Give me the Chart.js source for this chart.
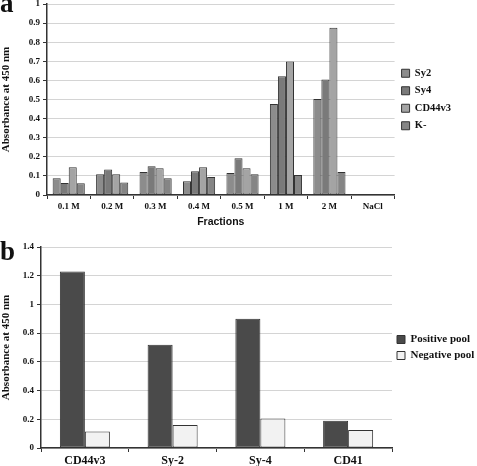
<!DOCTYPE html>
<html>
<head>
<meta charset="utf-8">
<script src="https://cdn.jsdelivr.net/npm/chart.js@4"></script>
<style>
  body { margin: 0; background: #fff; }
  #wrap { position: relative; width: 477px; height: 466px; overflow: hidden; }
  .panel { position: absolute; left: 0; width: 477px; height: 233px; }
  .tag { position: absolute; left: 0; font: bold 27px 'Liberation Serif', serif; color: #111; line-height: 1; }
</style>
</head>
<body>
<div id="wrap">
  <div class="panel" style="top:0"><canvas id="chartA" width="477" height="233"></canvas></div>
  <div class="panel" style="top:233px"><canvas id="chartB" width="477" height="233"></canvas></div>
  <div class="tag" style="top:-10px">a</div>
  <div class="tag" style="top:238px">b</div>
</div>
<script>
// panel a
const fractions = ['0.1 M', '0.2 M', '0.3 M', '0.4 M', '0.5 M', '1 M', '2 M', 'NaCl'];
const sy2 = [0.088, 0.108, 0.121, 0.072, 0.115, 0.476, 0.502, 0];
const sy4 = [0.063, 0.133, 0.150, 0.124, 0.192, 0.622, 0.605, 0];
const cd44v3 = [0.145, 0.108, 0.140, 0.145, 0.140, 0.699, 0.876, 0];
const kNeg = [0.061, 0.066, 0.088, 0.094, 0.108, 0.105, 0.121, 0];

// panel b
const markers = ['CD44v3', 'Sy-2', 'Sy-4', 'CD41'];
const positivePool = [1.23, 0.72, 0.90, 0.19];
const negativePool = [0.115, 0.16, 0.205, 0.125];

const serif = "'Liberation Serif', serif";
const ink = '#333';

function yAxis(max, step, width, fontSize) {
    return {
        min: 0, max: max,
        afterFit: s => { s.width = width; s.paddingTop = 0; },
        ticks: { stepSize: step, color: '#111', padding: 3,
                 callback: v => String(+v.toFixed(1)),
                 font: { family: serif, weight: 'bold', size: fontSize } },
        grid: { color: '#d4d4d4', tickColor: ink, tickLength: 4, lineWidth: 1 },
        border: { display: true, color: ink, width: 1.5 },
        title: { display: true, text: 'Absorbance at 450 nm', color: '#111', padding: { top: 0, bottom: 0 },
                 font: { family: serif, weight: 'bold', size: 11 } }
    };
}

function xAxis(height, fontSize) {
    return {
        afterFit: s => { s.height = height; },
        grid: { offset: true, drawOnChartArea: false, tickColor: ink, tickLength: 4 },
        border: { color: ink, width: 1.5 },
        ticks: { color: '#111', padding: 2, font: { family: serif, weight: 'bold', size: fontSize } }
    };
}

const xA = xAxis(38, 9);
xA.title = { display: true, text: 'Fractions', color: '#111', padding: { top: 5, bottom: 5 },
             font: { family: "'Liberation Sans', sans-serif", weight: 'bold', size: 10.5 } };

new Chart(document.getElementById('chartA'), {
    type: 'bar',
    data: {
        labels: fractions,
        datasets: [
            { label: 'Sy2', data: sy2, backgroundColor: '#8c8c8c' },
            { label: 'Sy4', data: sy4, backgroundColor: '#7a7a7a' },
            { label: 'CD44v3', data: cd44v3, backgroundColor: '#a4a4a4' },
            { label: 'K-', data: kNeg, backgroundColor: '#858585' }
        ].map(d => Object.assign(d, { borderColor: ink, borderWidth: 1, borderSkipped: false,
                                      categoryPercentage: 0.74, barPercentage: 1 }))
    },
    options: {
        responsive: false,
        animation: false,
        layout: { padding: { top: 4, right: 16, bottom: 0, left: 0 } },
        plugins: {
            legend: {
                position: 'right',
                fullSize: false,
                labels: { boxWidth: 8, boxHeight: 8, padding: 7, color: '#111',
                          font: { family: serif, weight: 'bold', size: 10.5 } }
            },
            tooltip: { enabled: false }
        },
        scales: {
            x: xA,
            y: yAxis(1, 0.1, 47, 9)
        }
    }
});

new Chart(document.getElementById('chartB'), {
    type: 'bar',
    data: {
        labels: markers,
        datasets: [
            { label: 'Positive pool', data: positivePool, backgroundColor: '#4a4a4a' },
            { label: 'Negative pool', data: negativePool, backgroundColor: '#f2f2f2' }
        ].map(d => Object.assign(d, { borderColor: ink, borderWidth: 1, borderSkipped: false,
                                      categoryPercentage: 0.57, barPercentage: 1 }))
    },
    options: {
        responsive: false,
        animation: false,
        layout: { padding: { top: 14, right: 0, bottom: 0, left: 0 } },
        plugins: {
            legend: {
                position: 'right',
                fullSize: false,
                maxWidth: 85,
                labels: { boxWidth: 8, boxHeight: 8, padding: 5, color: '#111',
                          font: { family: serif, weight: 'bold', size: 11 } }
            },
            tooltip: { enabled: false }
        },
        scales: {
            x: xAxis(18, 12),
            y: yAxis(1.4, 0.2, 41, 9)
        }
    }
});
</script>
</body>
</html>
